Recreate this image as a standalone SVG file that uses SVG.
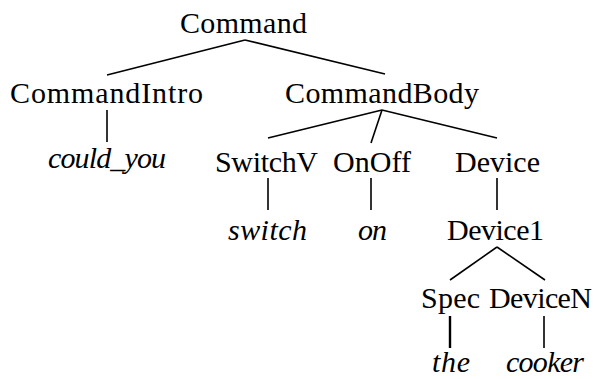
<svg xmlns="http://www.w3.org/2000/svg" width="599" height="379" viewBox="0 0 599 379">
<style>
.n{font-family:"Liberation Serif","Times New Roman",serif;font-size:30px;fill:#000;text-anchor:middle}
.t{font-family:"Liberation Serif","Times New Roman",serif;font-size:30px;font-style:italic;fill:#000;text-anchor:middle}
.e{stroke:#000;stroke-width:1.6;fill:none;stroke-linecap:butt}
</style>
<rect width="599" height="379" fill="#fff"/>
<g id="connectors">
<line class="e" x1="245" y1="40" x2="107" y2="75"/>
<line class="e" x1="245" y1="40" x2="385" y2="74"/>
<line class="e" x1="107" y1="110" x2="107" y2="142"/>
<line class="e" x1="382" y1="110" x2="268" y2="138"/>
<line class="e" x1="382" y1="110" x2="371" y2="143"/>
<line class="e" x1="382" y1="110" x2="497" y2="138"/>
<line class="e" x1="268" y1="178" x2="268" y2="210"/>
<line class="e" x1="371" y1="178" x2="371" y2="210"/>
<line class="e" x1="497" y1="178" x2="497" y2="210"/>
<line class="e" x1="497" y1="247" x2="450" y2="280"/>
<line class="e" x1="497" y1="247" x2="545" y2="280"/>
<line class="e" x1="450" y1="316" x2="450" y2="348" style="stroke-width:2.4"/>
<line class="e" x1="544" y1="316" x2="544" y2="348"/>
</g>
<g id="n-command"><text class="n" x="243.5" y="33" textLength="127">Command</text></g>
<g id="n-commandintro"><text class="n" x="106.5" y="103" textLength="193">CommandIntro</text></g>
<g id="n-commandbody"><text class="n" x="382" y="103" textLength="194">CommandBody</text></g>
<g id="n-could_you"><text class="t" x="107" y="168" textLength="118">could_you</text></g>
<g id="n-switchv"><text class="n" x="266.5" y="172" textLength="103">SwitchV</text></g>
<g id="n-onoff"><text class="n" x="372" y="172" textLength="78">OnOff</text></g>
<g id="n-device"><text class="n" x="497.5" y="172" textLength="85">Device</text></g>
<g id="n-switch"><text class="t" x="267.5" y="240" textLength="79">switch</text></g>
<g id="n-on"><text class="t" x="372.5" y="240" textLength="29">on</text></g>
<g id="n-device1"><text class="n" x="495.5" y="240" textLength="97">Device1</text></g>
<g id="n-spec"><text class="n" x="450.5" y="308" textLength="59">Spec</text></g>
<g id="n-devicen"><text class="n" x="540.5" y="308" textLength="103">DeviceN</text></g>
<g id="n-the"><text class="t" x="451" y="372" textLength="38">the</text></g>
<g id="n-cooker"><text class="t" x="545" y="372" textLength="78">cooker</text></g>
</svg>
